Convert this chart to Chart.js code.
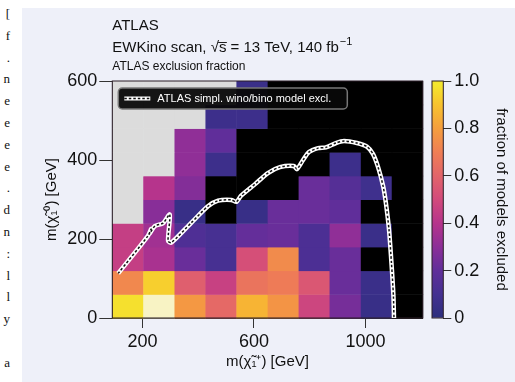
<!DOCTYPE html>
<html>
<head>
<meta charset="utf-8">
<script src="https://cdn.jsdelivr.net/npm/chart.js@4.4.1/dist/chart.umd.min.js"></script>
<style>
  html, body { margin: 0; padding: 0; background: #fff; }
  #page { position: relative; width: 515px; height: 382px; overflow: hidden; background: #fff; }
  #panel { position: absolute; left: 22px; top: 8px; right: 0; bottom: 0; background: #eef0f9; }
  #margin { position: absolute; left: 0; top: 3px; width: 10px; text-align: right;
            font: 13px "Liberation Serif", serif; line-height: 21.8px; color: #111; white-space: pre; }
  canvas { position: absolute; left: 0; top: 0; }
</style>
</head>
<body>
<div id="page">
  <div id="panel"></div>
  <div id="margin">[
f
.
n
e
e
e
e
.
d
n
:
l
l
y

a</div>
  <canvas id="main" width="515" height="382"></canvas>
  <canvas id="cbar" width="515" height="382"></canvas>
</div>
<script>
// bin edges of the scan grid
const xBinEdges = [92, 203, 315, 426, 537, 649, 760, 871, 983, 1094, 1205];
const yBinEdges = [0, 60, 120, 180, 240, 300, 360, 420, 480, 540, 600];

// fraction of models excluded, one row per neutralino bin (bottom first)
// null = no models in bin (grey), 0 = nothing excluded (black)
const fractionRows = [
  [0.97, 1.00, 0.78, 0.62, 0.86, 0.77, 0.48, 0.25, 0.05, 0],
  [0.73, 0.93, 0.58, 0.46, 0.66, 0.69, 0.55, 0.22, 0.06, 0],
  [0.45, 0.37, 0.22, 0.11, 0.52, 0.74, 0.13, 0.22, 0, 0],
  [0.45, 0.35, 0.14, 0.11, 0.21, 0.22, 0.13, 0.31, 0.06, 0],
  [null, 0.29, 0.05, 0, 0.05, 0.22, 0.22, 0.20, 0, 0],
  [null, 0.40, 0.28, 0, 0, 0, 0.22, 0.16, 0.08, 0],
  [null, null, 0.31, 0.07, 0, 0, 0, 0.07, 0, 0],
  [null, null, 0.31, 0.20, 0, 0, 0, 0, 0, 0],
  [null, null, null, 0.07, 0.07, 0, 0, 0, 0, 0],
  [null, null, null, null, 0.06, 0, 0, 0, 0, 0]
];

// simplified wino/bino exclusion contour
const contourX = [113, 220, 231, 225, 245, 274, 298, 292, 304, 375, 435, 471, 519, 537, 553, 604, 650, 693,
                  743, 754, 776, 797, 830, 858, 894, 923, 969, 1005, 1027, 1045, 1063, 1073, 1084, 1093, 1100, 1102];
const contourY = [113, 208, 225, 213, 233, 240, 262, 195, 191, 241, 283, 297, 299, 294, 309, 339, 367, 382,
                  385, 377, 400, 420, 430, 432, 443, 448, 443, 434, 415, 382, 334, 291, 225, 139, 56, 0];

const xTicks = [200, 600, 1000];
const yTicks = [0, 200, 400, 600];
const cbTicks = [0, 0.2, 0.4, 0.6, 0.8, 1.0];

const titleLines = ['ATLAS', 'EWKino scan, \u221As\u0305 = 13 TeV, 140 fb', 'ATLAS exclusion fraction'];
const titleSup = '\u22121';
const legendLabel = 'ATLAS simpl. wino/bino model excl.';
const xTitle = 'm(\u03C7\u0303\u2081\u207A) [GeV]';
const yTitle = 'm(\u03C7\u0303\u2081\u2070) [GeV]';
const cbTitle = 'fraction of models excluded';

const FONT = '"Liberation Sans", Arial, sans-serif';

// colour map (plasma-like, as in the colour bar)
const cmap = [
  [0.00, [44, 46, 124]], [0.10, [68, 48, 145]], [0.20, [96, 46, 154]], [0.30, [140, 46, 152]],
  [0.40, [182, 52, 140]], [0.50, [210, 74, 124]], [0.60, [226, 100, 106]], [0.70, [239, 126, 85]],
  [0.80, [245, 158, 62]], [0.90, [248, 194, 46]], [0.985, [244, 230, 46]], [1.00, [248, 243, 196]]
];
function colourFor(v) {
  if (v === null) return '#dcdcdc';
  if (v === 0) return '#000000';
  for (let i = 1; i < cmap.length; i++) {
    if (v <= cmap[i][0]) {
      const [a, ca] = cmap[i - 1], [b, cb] = cmap[i];
      const t = (v - a) / (b - a);
      const c = ca.map((x, k) => Math.round(x + (cb[k] - x) * t));
      return `rgb(${c[0]},${c[1]},${c[2]})`;
    }
  }
  const c = cmap[cmap.length - 1][1];
  return `rgb(${c[0]},${c[1]},${c[2]})`;
}

const heatmap = {
  id: 'heatmap',
  beforeDatasetsDraw(chart) {
    const { ctx, chartArea: a, scales: { x, y } } = chart;
    ctx.save();
    fractionRows.forEach((row, r) => {
      row.forEach((v, c) => {
        const x0 = x.getPixelForValue(xBinEdges[c]);
        const x1 = x.getPixelForValue(xBinEdges[c + 1]);
        const y0 = y.getPixelForValue(yBinEdges[r + 1]);
        const y1 = y.getPixelForValue(yBinEdges[r]);
        ctx.fillStyle = colourFor(v);
        ctx.fillRect(x0, y0, x1 - x0 + 0.5, y1 - y0 + 0.5);
      });
    });
    ctx.strokeStyle = '#2a1c26';
    ctx.lineWidth = 1;
    ctx.strokeRect(a.left, a.top, a.right - a.left, a.bottom - a.top);
    ctx.restore();
  }
};

const decorations = {
  id: 'decorations',
  afterDraw(chart) {
    const { ctx, chartArea: a } = chart;
    ctx.save();
    // titles
    ctx.fillStyle = '#111';
    ctx.textBaseline = 'alphabetic';
    ctx.textAlign = 'left';
    ctx.font = '15px ' + FONT;
    ctx.fillText(titleLines[0], a.left, 30);
    ctx.fillText(titleLines[1], a.left, 51.5);
    const w = ctx.measureText(titleLines[1]).width;
    ctx.font = '11px ' + FONT;
    ctx.fillText(titleSup, a.left + w + 1, 45);
    ctx.font = '12px ' + FONT;
    ctx.fillText(titleLines[2], a.left, 70);

    // legend box
    const bx = a.left + 6, by = a.top + 7, bw = 229, bh = 21;
    ctx.beginPath();
    ctx.roundRect(bx, by, bw, bh, 4);
    ctx.fillStyle = 'rgba(8,8,8,0.95)';
    ctx.fill();
    ctx.strokeStyle = '#777';
    ctx.lineWidth = 1.5;
    ctx.stroke();
    const ly = by + bh / 2;
    ctx.beginPath();
    ctx.moveTo(bx + 6, ly); ctx.lineTo(bx + 32, ly);
    ctx.strokeStyle = '#fff'; ctx.lineWidth = 4; ctx.stroke();
    ctx.setLineDash([2.5, 2]);
    ctx.strokeStyle = '#111'; ctx.lineWidth = 1.4; ctx.stroke();
    ctx.setLineDash([]);
    ctx.fillStyle = '#fff';
    ctx.font = '11px ' + FONT;
    ctx.textBaseline = 'middle';
    ctx.fillText(legendLabel, bx + 39, ly + 0.5);
    ctx.restore();
  }
};

const contourPoints = () => contourX.map((x, i) => ({ x: x, y: contourY[i] }));

new Chart(document.getElementById('main'), {
  type: 'scatter',
  data: {
    datasets: [
      // dashed core on top (lower order is drawn last)
      { data: contourPoints(), order: 0, showLine: true, borderColor: '#111111', borderWidth: 1.5, borderDash: [2.5, 2], pointRadius: 0, tension: 0.25, clip: false },
      { data: contourPoints(), order: 1, showLine: true, borderColor: '#ffffff', borderWidth: 4.5, pointRadius: 0, tension: 0.25, clip: false }
    ]
  },
  options: {
    responsive: false,
    animation: false,
    events: [],
    layout: { padding: { left: 22, top: 81, right: 92.3, bottom: 0 } },
    plugins: { legend: { display: false }, tooltip: { enabled: false } },
    scales: {
      x: {
        type: 'linear', min: 92, max: 1205,
        afterBuildTicks: s => { s.ticks = xTicks.map(v => ({ value: v })); },
        afterFit: s => { s.height = 64; },
        grid: { drawOnChartArea: false, tickLength: 10, color: '#333' },
        border: { color: '#333' },
        ticks: { color: '#111', font: { family: FONT, size: 18 }, padding: 3, callback: v => String(v) },
        title: { display: true, text: xTitle, color: '#111', font: { family: FONT, size: 15 }, padding: { top: 0, bottom: 11 } }
      },
      y: {
        type: 'linear', min: 0, max: 600,
        afterBuildTicks: s => { s.ticks = yTicks.map(v => ({ value: v })); },
        afterFit: s => { s.width = 90.3; },
        grid: { drawOnChartArea: false, tickLength: 13, color: '#333' },
        border: { color: '#333' },
        ticks: { color: '#111', font: { family: FONT, size: 18 }, padding: 2, callback: v => String(v) },
        title: { display: true, text: yTitle, color: '#111', font: { family: FONT, size: 15 }, padding: { top: 21, bottom: 0 } }
      }
    }
  },
  plugins: [heatmap, decorations]
});

const cbarFrame = {
  id: 'cbarFrame',
  afterDatasetsDraw(chart) {
    const { ctx, chartArea: a } = chart;
    ctx.save();
    ctx.strokeStyle = '#2a1c26';
    ctx.lineWidth = 1;
    ctx.strokeRect(a.left, a.top, a.right - a.left, a.bottom - a.top);
    ctx.restore();
  }
};

new Chart(document.getElementById('cbar'), {
  type: 'bar',
  data: {
    labels: [''],
    datasets: [{
      data: [[0, 1]],
      barPercentage: 1, categoryPercentage: 1, borderWidth: 0,
      backgroundColor: ctx => {
        const a = ctx.chart.chartArea;
        if (!a) return '#888';
        const g = ctx.chart.ctx.createLinearGradient(0, a.bottom, 0, a.top);
        cmap.forEach(([v, c]) => {
          if (v < 0.99) g.addColorStop(v, `rgb(${c[0]},${c[1]},${c[2]})`);
        });
        const top = cmap[cmap.length - 2][1];
        g.addColorStop(1, `rgb(${top[0]},${top[1]},${top[2]})`);
        return g;
      }
    }]
  },
  options: {
    responsive: false,
    animation: false,
    events: [],
    layout: { padding: { left: 432, top: 81, right: 0, bottom: 64 } },
    plugins: { legend: { display: false }, tooltip: { enabled: false } },
    scales: {
      x: { display: false },
      y: {
        position: 'right', min: 0, max: 1,
        afterBuildTicks: s => { s.ticks = cbTicks.map(v => ({ value: v })); },
        afterFit: s => { s.width = 71.7; },
        grid: { drawOnChartArea: false, tickLength: 8, color: '#333' },
        border: { display: false },
        ticks: { color: '#111', font: { family: FONT, size: 18 }, padding: 3,
                 callback: v => v === 0 ? '0' : v.toFixed(1) },
        title: { display: true, text: cbTitle, color: '#111', font: { family: FONT, size: 15 }, padding: { top: 5, bottom: 0 } }
      }
    }
  },
  plugins: [cbarFrame]
});
</script>
</body>
</html>
